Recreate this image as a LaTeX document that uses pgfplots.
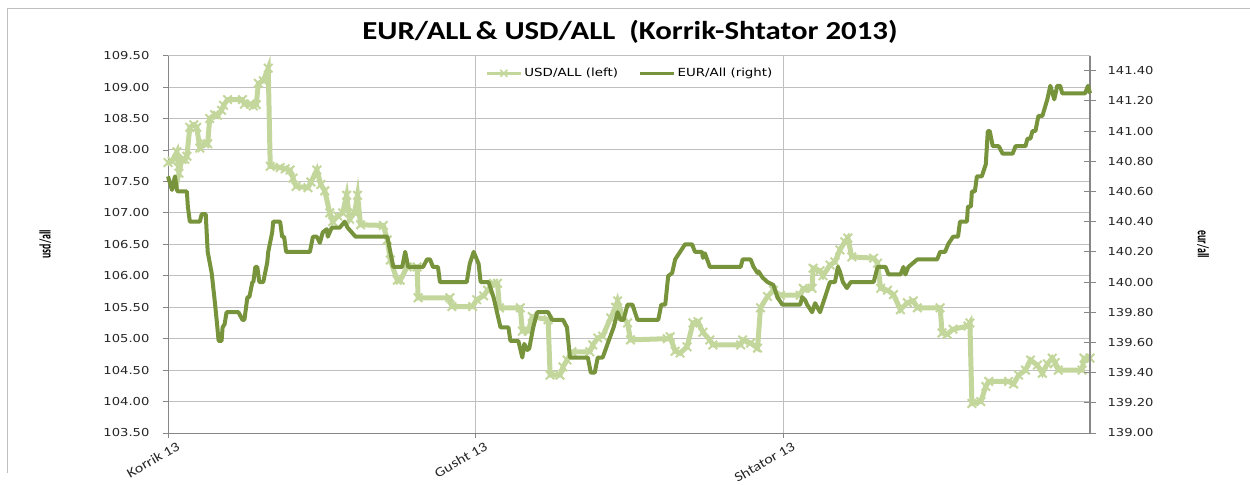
\documentclass[border=0pt]{standalone}
\usepackage{pgfplots}
\pgfplotsset{compat=1.18}
\usepackage{pgfplotstable}
\usepackage{fontspec}
\setmainfont{DejaVu Sans}[FakeStretch=1.2]
\newfontfamily\titlefont{Carlito}[FakeStretch=1.19]
\newfontfamily\narrowfont{Carlito}[FakeStretch=0.62]
\definecolor{usdc}{HTML}{C3D69B}
\definecolor{eurc}{HTML}{77933C}
\definecolor{gridc}{HTML}{BFBFBF}
\definecolor{axisc}{HTML}{868686}
\pgfplotsset{numfmt/.style={/pgf/number format/fixed, /pgf/number format/fixed zerofill, /pgf/number format/precision=2, /pgf/number format/assume math mode=true},
  usdlegend/.style={legend image code/.code={\draw[usdc, line width=3bp, mark=x, mark size=5bp, mark options={line width=1.6bp, solid}, mark repeat=2, mark phase=2] plot coordinates {(0bp,0bp) (17bp,0bp) (34bp,0bp)};}},
  eurlegend/.style={legend image code/.code={\draw[eurc, line width=3.6bp] (0bp,0bp) -- (34bp,0bp);}}}

\pgfplotstableread{
d v
0.0 107.80
0.4 107.82
0.9 107.97
1.1 107.63
1.4 107.85
1.7 107.85
1.9 107.90
2.2 108.36
2.6 108.40
2.9 108.36
3.2 108.03
3.7 108.10
4.0 108.10
4.2 108.50
4.7 108.56
5.0 108.55
5.4 108.63
5.6 108.71
6.0 108.80
7.5 108.80
7.7 108.73
8.3 108.73
8.6 108.70
8.9 108.72
9.1 109.06
9.6 109.10
10.1 109.30
10.3 107.74
11.3 107.72
11.8 107.70
12.3 107.68
12.6 107.55
12.9 107.42
14.1 107.40
14.4 107.49
15.0 107.68
15.4 107.45
15.8 107.35
16.3 107.00
16.6 106.86
17.1 106.95
17.6 107.00
18.0 107.28
18.3 106.90
18.8 107.00
19.1 107.28
19.4 106.81
21.7 106.80
22.1 106.57
22.4 106.25
23.1 105.93
23.4 105.93
24.1 106.14
25.1 106.14
25.2 105.65
28.4 105.65
28.6 105.51
30.7 105.51
31.1 105.62
31.8 105.68
32.2 105.77
32.8 105.88
33.2 105.88
33.4 105.49
35.5 105.49
35.7 105.12
36.3 105.12
36.7 105.35
38.3 105.30
38.5 104.42
39.5 104.42
39.8 104.55
40.2 104.66
40.7 104.79
42.5 104.79
42.8 104.90
43.3 105.01
43.8 105.04
44.6 105.33
45.1 105.50
45.3 105.60
45.8 105.35
46.3 105.25
46.6 104.98
50.3 105.00
50.6 105.03
51.1 104.80
51.6 104.77
52.3 104.87
52.9 105.25
53.4 105.27
53.9 105.10
54.6 104.98
54.9 104.90
57.7 104.90
57.9 104.98
58.7 104.93
59.4 104.85
59.7 105.49
60.4 105.67
61.0 105.77
61.7 105.69
63.7 105.69
64.0 105.80
64.9 105.80
65.0 106.12
65.7 106.08
66.0 106.00
66.7 106.17
67.2 106.22
67.7 106.41
68.2 106.54
68.5 106.60
68.9 106.30
71.1 106.28
71.5 106.20
71.8 105.80
72.5 105.77
73.1 105.70
73.8 105.46
74.5 105.57
75.1 105.60
75.5 105.49
77.8 105.49
78.0 105.09
78.5 105.07
79.1 105.15
80.6 105.20
80.8 105.25
81.0 103.97
81.9 104.00
82.4 104.24
82.7 104.32
84.7 104.32
85.2 104.28
85.7 104.42
86.4 104.50
86.9 104.66
87.6 104.58
88.1 104.45
88.6 104.60
89.1 104.69
89.4 104.62
89.7 104.50
92.1 104.50
92.3 104.69
92.9 104.69
}\usdtable

\pgfplotstableread{
d v
0.0 140.70
0.4 140.61
0.7 140.70
0.9 140.61
1.0 140.60
1.9 140.60
2.0 140.50
2.2 140.40
3.2 140.40
3.4 140.45
3.8 140.45
4.0 140.20
4.4 140.06
4.7 139.88
4.9 139.75
5.1 139.61
5.4 139.61
5.5 139.70
5.7 139.72
5.9 139.80
7.1 139.80
7.5 139.75
7.7 139.75
8.0 139.90
8.2 139.90
8.5 140.00
8.6 140.00
8.8 140.10
9.0 140.10
9.2 140.00
9.6 140.00
10.0 140.13
10.1 140.20
10.5 140.33
10.6 140.40
11.3 140.40
11.5 140.30
11.7 140.30
11.9 140.20
14.3 140.20
14.6 140.30
15.0 140.30
15.3 140.26
15.6 140.33
16.0 140.35
16.1 140.30
16.5 140.36
17.3 140.36
17.8 140.40
18.1 140.36
18.5 140.33
18.9 140.30
22.1 140.30
22.4 140.20
22.7 140.10
23.6 140.10
23.9 140.20
24.2 140.10
25.7 140.10
26.1 140.15
26.4 140.15
26.7 140.10
27.2 140.10
27.4 140.00
30.1 140.00
30.4 140.12
30.8 140.20
31.3 140.12
31.5 140.00
32.3 140.00
32.8 139.90
33.5 139.70
34.3 139.70
34.5 139.61
35.3 139.61
35.7 139.50
35.9 139.59
36.2 139.55
36.4 139.56
36.8 139.70
37.2 139.80
38.3 139.80
38.7 139.75
39.8 139.75
40.2 139.70
40.5 139.50
42.3 139.50
42.6 139.40
43.0 139.40
43.3 139.50
43.8 139.50
44.4 139.61
44.9 139.70
45.3 139.80
45.6 139.75
45.9 139.75
46.3 139.85
46.8 139.85
47.3 139.75
49.4 139.75
49.7 139.85
50.1 139.85
50.4 140.04
50.8 140.06
51.1 140.15
51.6 140.20
52.1 140.25
52.8 140.25
53.1 140.20
53.8 140.20
53.9 140.16
54.1 140.19
54.6 140.10
57.7 140.10
57.9 140.15
58.7 140.15
59.0 140.10
59.4 140.06
59.5 140.07
59.9 140.03
60.4 140.00
61.0 139.98
61.4 139.90
61.9 139.85
63.7 139.85
63.9 139.90
64.2 139.88
64.4 139.85
64.9 139.80
65.2 139.86
65.7 139.80
66.0 139.86
66.7 140.00
67.2 140.00
67.5 140.10
67.7 140.07
68.0 140.00
68.4 139.96
68.8 140.00
71.1 140.00
71.5 140.10
72.3 140.10
72.6 140.05
73.8 140.05
74.1 140.10
74.3 140.05
74.6 140.10
75.5 140.15
77.5 140.15
77.8 140.20
78.3 140.20
78.6 140.25
79.1 140.30
79.6 140.30
79.8 140.40
80.5 140.40
80.6 140.50
80.9 140.50
81.0 140.60
81.3 140.60
81.5 140.70
82.0 140.70
82.4 140.78
82.6 141.00
82.8 141.00
83.1 140.90
83.7 140.90
84.1 140.85
85.1 140.85
85.4 140.90
86.4 140.90
86.6 140.95
86.9 140.95
87.1 141.00
87.4 141.00
87.7 141.10
88.1 141.10
88.6 141.21
88.9 141.30
89.3 141.21
89.6 141.30
89.9 141.30
90.1 141.25
92.4 141.25
92.7 141.30
92.9 141.25
}\eurtable

\begin{document}
\begin{tikzpicture}
\path[use as bounding box] (0bp,0bp) rectangle (1250bp,485bp);
\draw[gridc, line width=0.8bp] (7bp,12bp) -- (7bp,477bp) -- (1250bp,477bp);

\begin{axis}[
  at={(168bp,52bp)}, anchor=south west,
  width=922bp, height=377.4bp, scale only axis,
  xmin=0, xmax=92.9, ymin=103.5, ymax=109.5,
  axis x line*=bottom, axis y line*=left,
  axis line style={axisc, line width=1bp, -},
  xtick={0,31,62}, xticklabels={Korrik 13, Gusht 13, Shtator 13},
  ytick={103.5,104,...,109.5},
  ymajorgrids, xmajorgrids,
  major grid style={gridc, line width=1bp},
  tick align=outside, major tick length=5bp,
  tick style={axisc, line width=0.8bp},
  numfmt,
  ticklabel style={font=\fontsize{11}{13}\selectfont, text=black!85},
  yticklabel style={xshift=-10bp},
  xticklabel style={rotate=30, anchor=north east, xshift=9bp, yshift=-3bp, font=\titlefont\fontsize{13.5}{15}\selectfont},
  ylabel={\narrowfont\bfseries usd/all},
  ylabel style={at={(axis description cs:-0.133,0.5)}, anchor=center, rotate=0, font=\fontsize{16}{18}\selectfont},
  title={\titlefont\bfseries EUR/ALL\,\& USD/ALL\ \ (Korrik-Shtator 2013)},
  title style={at={(axis description cs:0.501,1.047)}, anchor=center, font=\fontsize{26}{29}\selectfont},
  clip=false,
]
\addplot[usdc, line width=5bp, mark=x, mark size=6bp, mark options={line width=2bp, solid}] table[x=d, y=v] {\usdtable};
\end{axis}

\begin{axis}[
  at={(168bp,52bp)}, anchor=south west,
  width=922bp, height=377.4bp, scale only axis,
  xmin=0, xmax=92.9, ymin=139, ymax=141.5,
  axis x line=none, axis y line*=right,
  axis line style={axisc, line width=1.6bp, -},
  ytick={139,139.2,...,141.41},
  tick align=center, major tick length=12bp,
  tick style={axisc, line width=0.8bp},
  numfmt,
  ticklabel style={font=\fontsize{11}{13}\selectfont, text=black!85},
  yticklabel style={xshift=8bp},
  ylabel={\narrowfont\bfseries eur/all},
  ylabel style={at={(axis description cs:1.1226,0.5)}, anchor=center, rotate=180, font=\fontsize{16}{18}\selectfont},
  legend columns=2,
  legend style={at={(axis description cs:0.501,0.953)}, anchor=center, draw=none, fill=none,
    font=\fontsize{11.2}{13}\selectfont, /tikz/every even column/.append style={column sep=18bp}},
  legend cell align=left,
  clip=false,
]
\addlegendimage{usdlegend}
\addlegendentry{USD/ALL (left)}
\addplot[eurc, line width=4bp, line join=round, no marks, forget plot] table[x=d, y=v] {\eurtable};
\addlegendimage{eurlegend}
\addlegendentry{EUR/All (right)}
\end{axis}
\end{tikzpicture}
\end{document}
